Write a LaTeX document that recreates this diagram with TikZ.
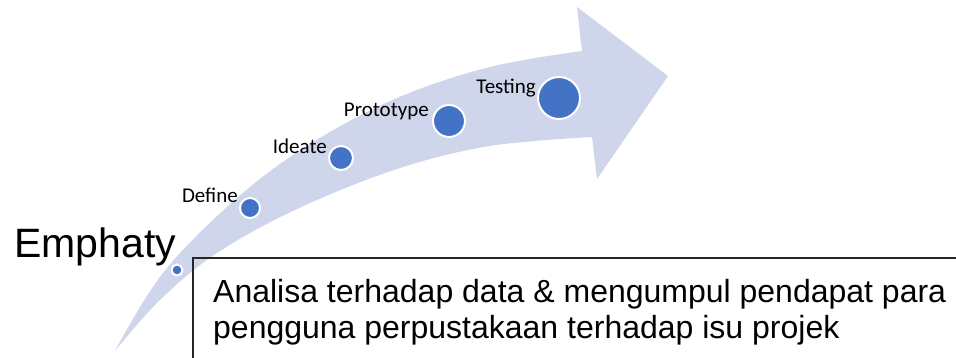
\documentclass[tikz,border=0pt]{standalone}
\usepackage{fontspec}
\setmainfont{Liberation Sans}
\newfontfamily\calibri{Carlito}
\usepackage{tikz}
\definecolor{ribbon}{HTML}{CFD5EA}
\definecolor{dotblue}{HTML}{4472C4}
\tikzset{
  stage/.style={circle, fill=dotblue, draw=white, line width=2pt, inner sep=0pt},
  stagelabel/.style={anchor=base east, inner sep=0pt, font=\calibri\fontsize{21}{24}\selectfont},
}

\begin{document}
\begin{tikzpicture}[x=1pt, y=-1pt]
\useasboundingbox (0,0) rectangle (956,357);

% curved arrow
\fill[ribbon] plot[smooth, tension=0.6] coordinates {(115,351) (163,273) (237,198) (310,144) (397,98) (490,67) (582,51)}
  -- (577,7) -- (668,76) -- (597,179) -- (592,137)
  -- plot[smooth, tension=0.6] coordinates {(592,137) (490,146) (397,169) (297,209) (217,253) (160,300) (115,351)}
  -- cycle;

% stages
\node[stage, minimum size=11pt] (emphaty) at (177,270) {};
\node[stage, minimum size=20pt] (define) at (250,208) {};
\node[stage, minimum size=24pt] (ideate) at (341,158) {};
\node[stage, minimum size=32pt] (prototype) at (449,121) {};
\node[stage, minimum size=42pt] (testing) at (559,98) {};

\node[stagelabel] (definelbl) at (238,202) {Define};
\node[stagelabel] (ideatelbl) at (327,153) {Ideate};
\node[stagelabel] (prototypelbl) at (429,116) {Prototype};
\node[stagelabel] (testinglbl) at (536,93) {Testing};

\node[anchor=base west, inner sep=0pt, font=\fontsize{41}{44}\selectfont] (emphatylbl) at (14,257) {Emphaty};

% description box
\draw[line width=1.5pt, black!85] (193,258) rectangle (962,400);
\node[anchor=base west, inner sep=0pt, align=left, font=\fontsize{32}{36}\selectfont] (desc) at (213,338)
  {Analisa terhadap data \& mengumpul pendapat para\\pengguna perpustakaan terhadap isu projek};
\end{tikzpicture}
\end{document}
